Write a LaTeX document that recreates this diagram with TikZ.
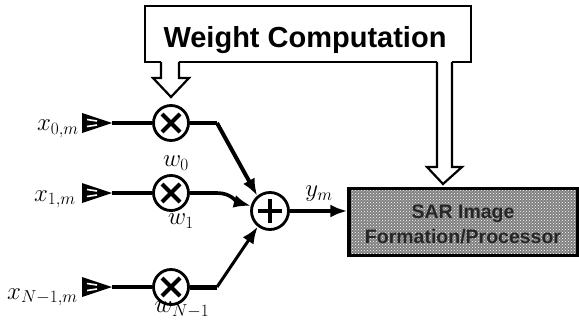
\documentclass[tikz,border=0pt]{standalone}
\usepackage{fontspec}
\setmainfont{Liberation Sans}
\usetikzlibrary{arrows.meta,patterns,calc}
\tikzset{
  every picture/.style={x=1pt,y=-1pt},
  mult/.style={circle,draw=black,line width=2.8pt,fill=white,minimum size=35pt,inner sep=0pt,
    path picture={\draw[line width=4.2pt] (path picture bounding box.center) ++(-9pt,-9pt) -- ++(18pt,18pt)
      (path picture bounding box.center) ++(-9pt,9pt) -- ++(18pt,-18pt);}},
  summer/.style={circle,draw=black,line width=2.8pt,fill=white,minimum size=37pt,inner sep=0pt,
    path picture={\draw[line width=4.4pt] (path picture bounding box.center) ++(-12pt,0) -- ++(24pt,0)
      (path picture bounding box.center) ++(0,-12pt) -- ++(0,24pt);}},
  sig/.style={line width=3.6pt,line join=miter},
  sigarrow/.style={sig,-{Latex[length=17pt,width=13pt]}},
  hollowedge/.style={draw=black,line width=2.2pt,line join=miter},
  mathlabel/.style={inner sep=0pt,font=\fontsize{23}{25}\selectfont},
  weightbox/.style={draw=black,line width=2pt,fill=white,minimum width=326pt,minimum height=56pt,inner sep=0pt},
  wtext/.style={inner sep=0pt,font=\fontsize{29}{32}\selectfont\bfseries},
  sarbox/.style={draw=black,line width=3.4pt,minimum width=229pt,minimum height=67pt,inner sep=0pt},
  sartext/.style={inner sep=0pt,align=center,font=\fontsize{19.5}{25}\selectfont\bfseries,text=black!85}
}
\begin{document}
\begin{tikzpicture}
\useasboundingbox (0,0) rectangle (579,321);
\fill[white] (0,0) rectangle (579,321);

% boxes
\node[weightbox] (wc) at (308,34) {};
\node[wtext] (wct) at (305,40) {Weight Computation};
\fill[black!50] (349,188) rectangle (579,256);
\fill[pattern=crosshatch dots,pattern color=white] (349,188) rectangle (579,256);
\node[sarbox] (sar) at (463.5,222) {};
\node[sartext] (sart) at (463,224) {SAR Image\\Formation/Processor};

% hollow arrows out of the weight box
\path[fill=white] (161,60) rectangle (179,78) (437,60) rectangle (452,168);
\coordinate (a1) at (161,62);
\coordinate (a2) at (179,62);
\coordinate (b1) at (437,62);
\coordinate (b2) at (452,62);
\draw[hollowedge] (a1) -- ++(0,16) -- (153,78) -- (171,97) -- (189,78) -- (179,78) -- (a2);
\draw[hollowedge] (b1) -- ++(0,105) -- (427,167) -- (443,184) -- (462,167) -- (452,167) -- (b2);

% multipliers and summer
\node[mult] (m0) at (171,123) {};
\node[mult] (m1) at (171,193) {};
\node[mult] (m2) at (171,287) {};
\node[summer] (s) at (270,211) {};

% input ports
\coordinate (p0) at (112,123);
\coordinate (p1) at (112,193);
\coordinate (p2) at (112,287);
\foreach \p/\m in {p0/m0,p1/m1,p2/m2}{
  \fill[black] (\p) -- ++(-30,-10) -- ++(0,20) -- cycle;
  \draw[white,line width=1.6pt] (\p) ++(-25,-3.5) -- ++(10,1.5) (\p) ++(-25,3.5) -- ++(10,-1.5);
  \draw[sig,line width=4pt] (\p) -- (\m.west);
}

% connectors
\coordinate (k0) at (217,123);
\coordinate (k1) at (217,193);
\coordinate (k2) at (217,287);
\draw[sig,line width=4.4pt] (m0.east) -- (k0);
\draw[sigarrow,line width=4pt] (k0) -- (s.130);
\draw[sig,line width=3.2pt] (m1.east) -- (k1);
\draw[sigarrow] (k1) to[out=0,in=165] (s.165);
\draw[sig,line width=5pt] (m2.east) -- (k2);
\draw[sigarrow,line width=3pt] (k2) -- (s.232);
\draw[sigarrow] (s.east) -- (s.east -| sar.west);

% labels
\node[mathlabel,anchor=base east] (lx0) at (79,131) {$x_{0,m}$};
\node[mathlabel,anchor=base east] (lx1) at (76,201) {$x_{1,m}$};
\node[mathlabel,anchor=base east] (lx2) at (78,299) {$x_{N-1,m}$};
\node[mathlabel] (lw0) at (176,163) {$w_0$};
\node[mathlabel] (lw1) at (181,221) {$w_1$};
\node[mathlabel] (lw2) at (182,310) {$w_{N-1}$};
\node[mathlabel] (ly) at (319,194) {$y_m$};
\end{tikzpicture}
\end{document}
